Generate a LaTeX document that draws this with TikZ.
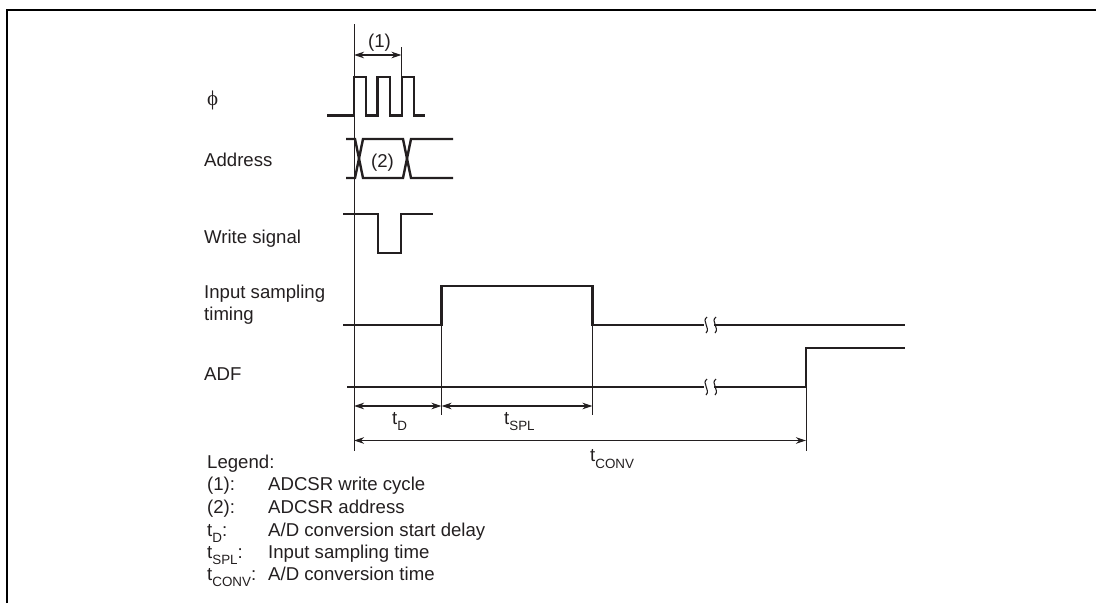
\documentclass[tikz,border=0pt]{standalone}
\usepackage{fontspec}
\setmainfont{Liberation Sans}
\newfontfamily\phifont{Liberation Serif}
\usepackage{xcolor}
\usepackage{tikz}
\usetikzlibrary{arrows.meta,positioning}
\definecolor{inkblack}{RGB}{35,31,32}
\newcommand{\tsub}[1]{t\raisebox{-6.5pt}{\fontsize{13.4}{13.4}\selectfont #1}}
\tikzset{
  wave/.style={line width=2.4pt, inkblack, line cap=butt, line join=miter},
  guide/.style={line width=1pt, inkblack},
  darrow/.style={{Stealth[length=10pt,width=6.5pt]}-{Stealth[length=10pt,width=6.5pt]}, line width=1.1pt, inkblack},
  siglabel/.style={anchor=base west, inner sep=0pt, font=\fontsize{18.6}{22}\selectfont, align=left, text=inkblack},
  dimlabel/.style={anchor=base west, inner sep=0pt, font=\fontsize{18.6}{22}\selectfont, text=inkblack},
  brk/.pic={\draw[line width=1.1pt, inkblack] (2,-8) .. controls (-4,-4) and (6,3) .. (1,8);}
}
\begin{document}
\begin{tikzpicture}[x=1pt,y=-1pt]
\useasboundingbox (0,0) rectangle (1096,603);
\draw[line width=2pt, black] (7,603) -- (7,10) -- (1096,10);
% guide ends
\coordinate (gstart) at (354,24);
\coordinate (gstartend) at (354,451);
\coordinate (gcyc) at (401.5,47);
\coordinate (gcycend) at (401.5,77);
\coordinate (gd) at (441.5,325);
\coordinate (gdend) at (441.5,415);
\coordinate (gspl) at (592.5,325);
\coordinate (gsplend) at (592.5,415);
\coordinate (gconv) at (806,387);
\coordinate (gconvend) at (806,451);
\draw[guide] (gstart) -- (gstartend);
\draw[guide] (gcyc) -- (gcycend);
\draw[guide] (gd) -- (gdend);
\draw[guide] (gspl) -- (gsplend);
\draw[guide] (gconv) -- (gconvend);
% waveforms
\draw[wave] (327,115.5) -- (354,115.5) -- (354,77) -- (366,77) -- (366,115.5) -- (377.5,115.5) -- (377.5,77) -- (390,77) -- (390,115.5) -- (402,115.5) -- (402,77) -- (414,77) -- (414,115.5) -- (425,115.5);
\draw[wave] (346,139) -- (355,139) -- (363,178) -- (403,178) -- (411,139) -- (453,139);
\draw[wave] (346,178) -- (355,178) -- (363,139) -- (403,139) -- (411,178) -- (453,178);
\draw[wave] (343,214) -- (378,214) -- (378,253) -- (401,253) -- (401,214) -- (433,214);
\draw[wave] (343,325) -- (441.5,325) -- (441.5,286) -- (592.5,286) -- (592.5,325) -- (704,325);
\draw[wave] (714,325) -- (905,325);
\draw[wave] (347,387) -- (704,387);
\draw[wave] (714,387) -- (806,387) -- (806,348) -- (905,348);
\foreach \brkx in {705,714} {
  \pic at (\brkx,325) {brk};
  \pic at (\brkx,387) {brk};
}
% dimension arrows
\coordinate (cycl) at (354,55);
\coordinate (cycr) at (401.5,55);
\coordinate (td0) at (354,406);
\coordinate (td1) at (441.5,406);
\coordinate (tspl1) at (592.5,406);
\coordinate (tc0) at (354,440.5);
\coordinate (tc1) at (806,440.5);
\draw[darrow] (cycl) -- (cycr);
\draw[darrow] (td0) -- (td1);
\draw[darrow] (td1) -- (tspl1);
\draw[darrow] (tc0) -- (tc1);
\node[dimlabel] (cyclabel) at (368,47) {(1)};
\node[dimlabel] (addrtag) at (371,167) {(2)};
\node[dimlabel] (tdlabel) at (392,424) {\tsub{D}};
\node[dimlabel] (tspllabel) at (504,424) {\tsub{SPL}};
\node[dimlabel] (tconvlabel) at (590,461.5) {\tsub{CONV}};
% signal names
\node[siglabel] (phi) at (207,105) {\phifont\fontsize{21}{22}\selectfont ϕ};
\node[siglabel] (addr) at (204,166) {Address};
\node[siglabel] (wr) at (204,243) {Write signal};
\node[siglabel] (samp) at (204,320) {Input sampling\\timing};
\node[siglabel] (adf) at (204,380) {ADF};
% legend
\node[siglabel] (leghead) at (207,468) {Legend:};
\foreach \idx/\lkey/\ltext/\ypos in {1/{(1):}/{ADCSR write cycle}/490,2/{(2):}/{ADCSR address}/513,3/{\tsub{D}:}/{A/D conversion start delay}/536,4/{\tsub{SPL}:}/{Input sampling time}/558,5/{\tsub{CONV}:}/{A/D conversion time}/580} {
  \node[siglabel] (legkey\idx) at (207,\ypos) {\lkey};
  \node[siglabel] (legtext\idx) at (268,\ypos) {\ltext};
}
\end{tikzpicture}
\end{document}
